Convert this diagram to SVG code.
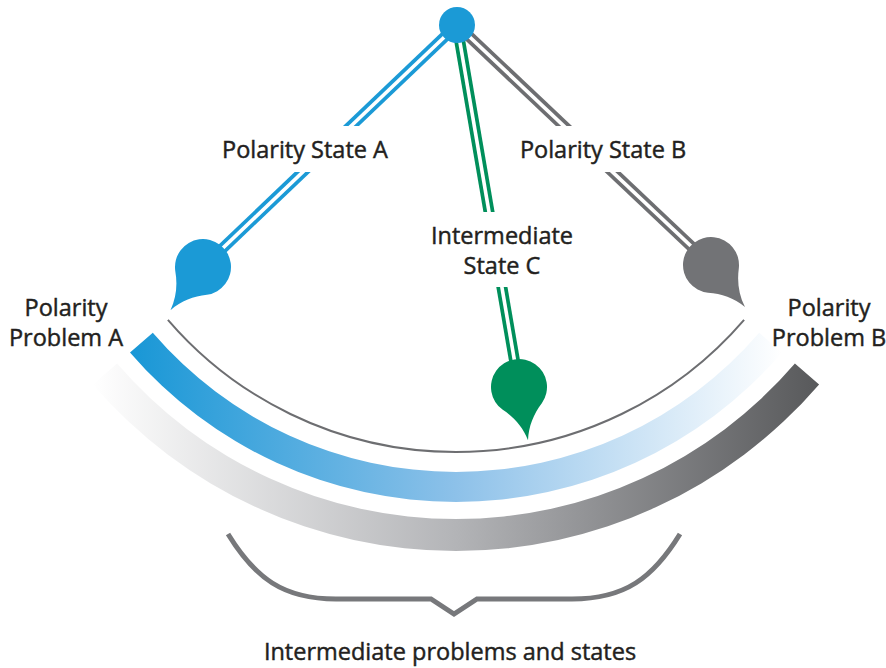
<svg xmlns="http://www.w3.org/2000/svg" width="886" height="668" viewBox="0 0 886 668">
  <style>
    .lbl { font-family: "Open Sans", "Noto Sans", "Liberation Sans", sans-serif; font-size: 23.5px; fill: #231f20; stroke: #231f20; stroke-width: 0.45; text-anchor: middle; }
    .knock { fill: #ffffff; }
    .rail { fill: none; stroke-linecap: butt; }
    .gap { fill: none; stroke: #ffffff; stroke-width: 3.6; }
  </style>
  <defs>
    <linearGradient id="gradBlue" gradientUnits="userSpaceOnUse" x1="130" y1="0" x2="782" y2="0">
      <stop offset="0" stop-color="#1897d6"/>
      <stop offset="0.5" stop-color="#8dc1e9"/>
      <stop offset="1" stop-color="#ffffff"/>
    </linearGradient>
    <linearGradient id="gradGray" gradientUnits="userSpaceOnUse" x1="93" y1="0" x2="819" y2="0">
      <stop offset="0" stop-color="#ffffff"/>
      <stop offset="0.5" stop-color="#b3b4b7"/>
      <stop offset="1" stop-color="#58595b"/>
    </linearGradient>
    <!-- teardrop pointing along +y, head centred on the origin -->
    <path id="drop" d="M0,54 C-3,40 -10,29 -19.8,19.8 A28,28 0 1 1 19.8,19.8 C10,29 3,40 0,54 Z"/>
  </defs>

  <!-- spectrum bands -->
  <g id="band-states">
    <path d="M152.8,332.8 A400,400 0 0 0 759.2,332.8 L782,352.4 A430,430 0 0 1 130,352.4 Z" fill="url(#gradBlue)"/>
  </g>
  <g id="band-problems">
    <path d="M117.1,363.5 A447,447 0 0 0 794.9,363.5 L819.1,384.4 A479,479 0 0 1 92.9,384.4 Z" fill="url(#gradGray)"/>
  </g>
  <g id="swing-arc">
    <path d="M167.9,319.8 A380,380 0 0 0 744.1,319.8" fill="none" stroke="#6d6e71" stroke-width="2"/>
  </g>

  <!-- pendulum rails -->
  <g id="connectors">
    <g id="rail-a">
      <line class="rail" x1="457" y1="25" x2="203" y2="267" stroke="#1b9ad6" stroke-width="11"/>
      <line class="gap" x1="457" y1="25" x2="203" y2="267"/>
    </g>
    <g id="rail-c">
      <line class="rail" x1="457" y1="25" x2="519" y2="387" stroke="#008f5b" stroke-width="11"/>
      <line class="gap" x1="457" y1="25" x2="519" y2="387"/>
    </g>
    <g id="rail-b">
      <line class="rail" x1="457" y1="25" x2="711" y2="265" stroke="#6d6e71" stroke-width="11"/>
      <line class="gap" x1="457" y1="25" x2="711" y2="265"/>
    </g>
  </g>

  <g id="pivot">
    <circle cx="457" cy="25" r="18" fill="#1b9ad6"/>
  </g>

  <g id="bob-a">
    <use href="#drop" transform="translate(203,267) rotate(37)" fill="#1b9ad6"/>
  </g>
  <g id="bob-c">
    <use href="#drop" transform="translate(519,387) rotate(-9.6)" fill="#008f5b"/>
  </g>
  <g id="bob-b">
    <use href="#drop" transform="translate(711,265) rotate(-39)" fill="#727376"/>
  </g>

  <g id="label-state-a">
    <rect class="knock" x="212" y="126" width="186" height="46"/>
    <text class="lbl" x="305" y="158">Polarity State A</text>
  </g>
  <g id="label-state-b">
    <rect class="knock" x="510" y="126" width="186" height="46"/>
    <text class="lbl" x="603" y="158">Polarity State B</text>
  </g>
  <g id="label-state-c">
    <rect class="knock" x="422" y="212" width="160" height="75"/>
    <text class="lbl" x="502" y="244">Intermediate</text>
    <text class="lbl" x="502" y="274">State C</text>
  </g>
  <g id="label-problem-a">
    <text class="lbl" x="66" y="316">Polarity</text>
    <text class="lbl" x="66" y="346">Problem A</text>
  </g>
  <g id="label-problem-b">
    <text class="lbl" x="829" y="316">Polarity</text>
    <text class="lbl" x="829" y="346">Problem B</text>
  </g>

  <g id="brace">
    <path d="M228,534 C255,578 283,599 336,599 L431,599 L454,614 L477,599 L572,599 C625,599 653,578 680,534" fill="none" stroke="#77787b" stroke-width="5" stroke-linejoin="miter"/>
  </g>
  <g id="label-intermediate">
    <text class="lbl" x="450" y="660">Intermediate problems and states</text>
  </g>
</svg>
